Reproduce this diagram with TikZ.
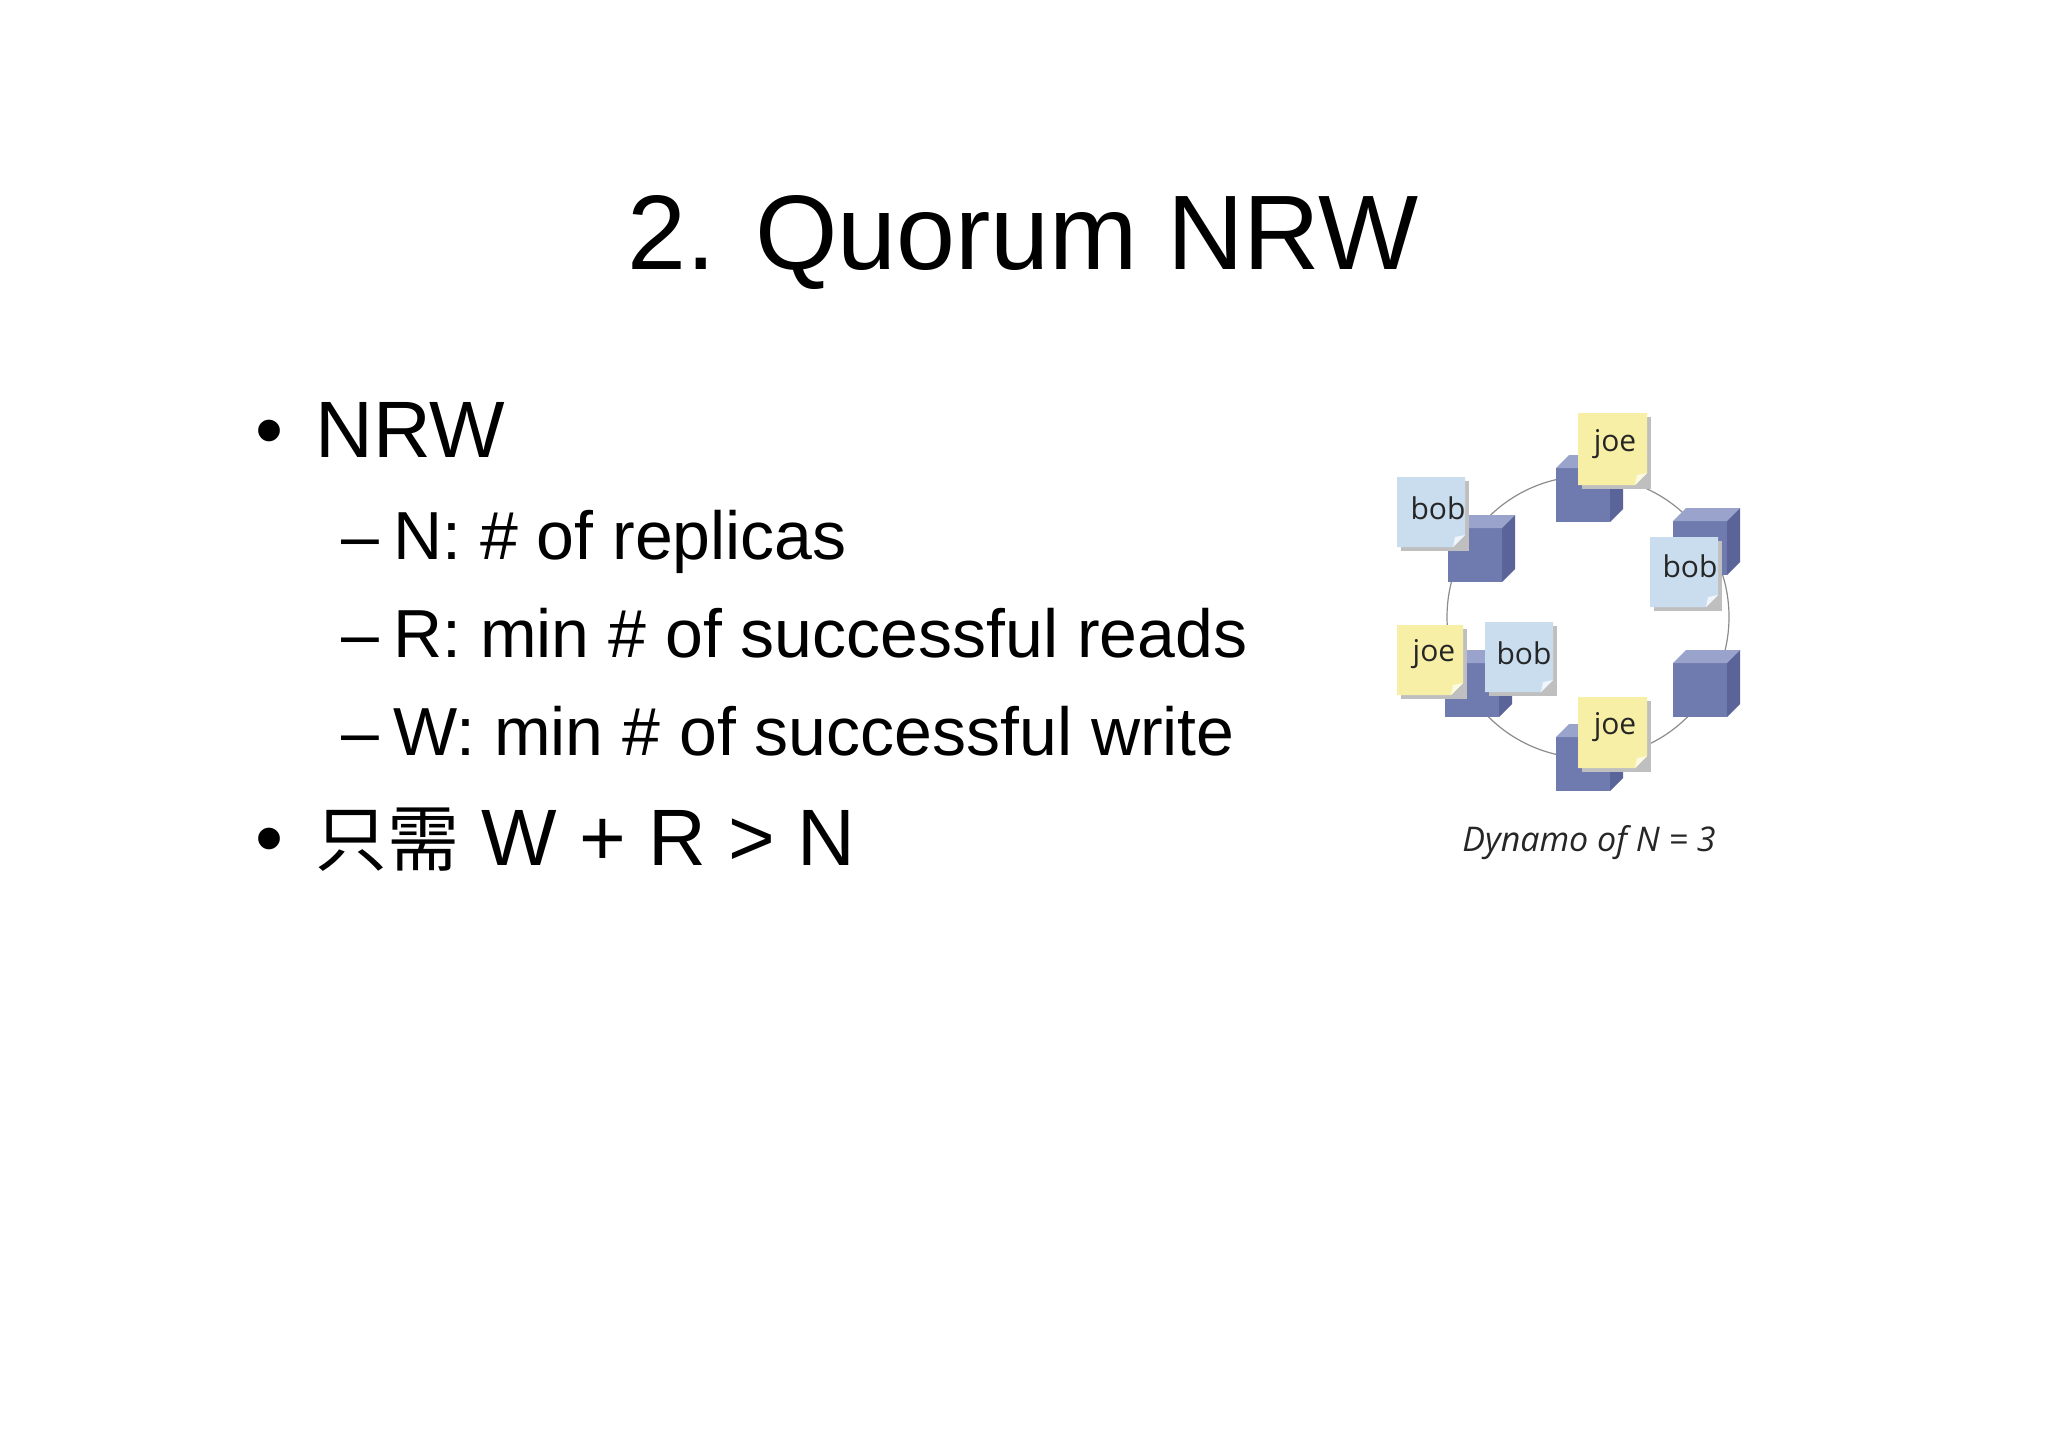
\documentclass[tikz,border=0pt]{standalone}
\usepackage{fontspec}
\setmainfont{Liberation Sans}
\newfontfamily\cjk{Noto Sans CJK SC}
\newfontfamily\capfont{Open Sans}
\definecolor{cubefront}{HTML}{6F7AAE}
\definecolor{cubetop}{HTML}{9AA3CC}
\definecolor{cubeside}{HTML}{5A6499}
\definecolor{noteY}{HTML}{F7EFA6}
\definecolor{noteB}{HTML}{C9DDEF}
\newcommand\mycube[2]{%
  \begin{scope}[shift={(#1pt,-#2pt)}]
    \fill[cubefront] (-27pt,-27pt) rectangle (27pt,27pt);
    \fill[cubetop] (-27pt,27pt) -- (-14pt,40pt) -- (40pt,40pt) -- (27pt,27pt) -- cycle;
    \fill[cubeside] (27pt,27pt) -- (40pt,40pt) -- (40pt,-14pt) -- (27pt,-27pt) -- cycle;
  \end{scope}}
\newcommand\mynote[5]{%
  \fill[black!25] (#1pt+4pt,-#2pt-4pt) rectangle (#3pt+4pt,-#4pt-4pt);
  \fill[#5] (#1pt,-#2pt) -- (#3pt,-#2pt) -- (#3pt,-#4pt+12pt) -- (#3pt-12pt,-#4pt) -- (#1pt,-#4pt) -- cycle;
  \fill[white!70!#5] (#3pt,-#4pt+12pt) -- (#3pt-12pt,-#4pt) -- (#3pt-10pt,-#4pt+10pt) -- cycle;}
\tikzset{notetxt/.style={font=\capfont\fontsize{30}{34}\selectfont, text=black!85}}
\begin{document}
\begin{tikzpicture}[x=1pt,y=1pt]
\useasboundingbox[fill=white] (0,0) rectangle (2048,-1447);
\node[font=\fontsize{106}{120}\selectfont] (title) at (1023,-243) {2. Quorum NRW};
\node[anchor=base west,font=\fontsize{80}{90}\selectfont] (b1) at (252,-457) {•\hspace{32pt}NRW};
\node[anchor=base west,font=\fontsize{68}{80}\selectfont] (s1) at (338,-559) {–\hspace{14pt}N: \# of replicas};
\node[anchor=base west,font=\fontsize{68}{80}\selectfont] (s2) at (338,-657) {–\hspace{14pt}R: min \# of successful reads};
\node[anchor=base west,font=\fontsize{68}{80}\selectfont] (s3) at (338,-755) {–\hspace{14pt}W: min \# of successful write};
\node[anchor=base west,font=\fontsize{80}{90}\selectfont] (b2) at (252,-865) {•\hspace{32pt}{\cjk\fontsize{72}{80}\selectfont 只需} W + R > N};
\draw[black!45, line width=1.2pt] (1588,-617) circle (141);
\mycube{1583}{495}
\mycube{1475}{555}
\mycube{1700}{548}
\mycube{1700}{690}
\mycube{1472}{690}
\mycube{1583}{764}
\mynote{1397}{477}{1465}{547}{noteB}
\node[notetxt] (n1) at (1438,-508) {bob};
\mynote{1578}{413}{1647}{485}{noteY}
\node[notetxt] (n2) at (1615,-444) {joe};
\mynote{1650}{537}{1718}{607}{noteB}
\node[notetxt] (n3) at (1690,-566) {bob};
\mynote{1397}{625}{1463}{695}{noteY}
\node[notetxt] (n4) at (1434,-654) {joe};
\mynote{1485}{622}{1553}{692}{noteB}
\node[notetxt] (n5) at (1524,-653) {bob};
\mynote{1578}{697}{1647}{768}{noteY}
\node[notetxt] (n6) at (1615,-727) {joe};
\node[font=\capfont\itshape\fontsize{34}{38}\selectfont, text=black!85] (cap) at (1589,-843) {Dynamo of N = 3};
\end{tikzpicture}
\end{document}
